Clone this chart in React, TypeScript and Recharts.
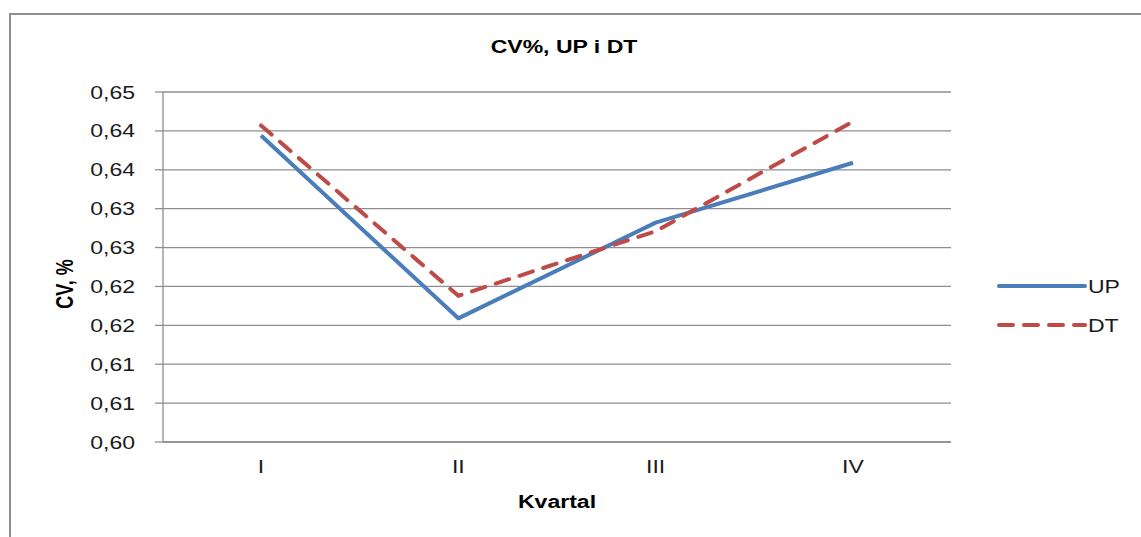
import React from 'react';
import { LineChart, Line, XAxis, YAxis, CartesianGrid, Label } from 'recharts';

const categories = ['I', 'II', 'III', 'IV'];
const upValues = [0.6394, 0.6159, 0.6282, 0.6359];
const dtValues = [0.6407, 0.6188, 0.6271, 0.6412];
const yTicks = [0.6, 0.605, 0.61, 0.615, 0.62, 0.625, 0.63, 0.635, 0.64, 0.645];
const yTickLabels = ['0,60', '0,61', '0,61', '0,62', '0,62', '0,63', '0,63', '0,64', '0,64', '0,65'];

const data = categories.map((c, i) => ({ name: c, UP: upValues[i], DT: dtValues[i] }));

const FONT = 'Liberation Sans, Arial, sans-serif';
const SX = 1.28;
const UP_COLOR = '#4a7ebb';
const DT_COLOR = '#be4b48';

const YTick = (props: any) => {
  const { x, y, index } = props;
  return (
    <text
      transform={`translate(${x - 18},${y}) scale(${SX},1)`}
      textAnchor="end"
      dominantBaseline="central"
      fontFamily={FONT}
      fontSize={18}
      fill="#1a1a1a"
    >
      {yTickLabels[index]}
    </text>
  );
};

const XTick = (props: any) => {
  const { x, y, payload } = props;
  return (
    <text
      transform={`translate(${x},${y + 16}) scale(${SX},1)`}
      textAnchor="middle"
      dominantBaseline="central"
      fontFamily={FONT}
      fontSize={18}
      fill="#1a1a1a"
    >
      {payload.value}
    </text>
  );
};

const LegendBox = () => (
  <svg width={140} height={70} style={{ position: 'absolute', left: 995, top: 270 }}>
    <line x1={4} y1={16} x2={90} y2={16} stroke={UP_COLOR} strokeWidth={4} strokeLinecap="round" />
    <text transform={`translate(93,16) scale(${SX},1)`} dominantBaseline="central" fontFamily={FONT} fontSize={18} fill="#1a1a1a">UP</text>
    <line x1={4} y1={55} x2={90} y2={55} stroke={DT_COLOR} strokeWidth={4} strokeDasharray="14 11" strokeLinecap="round" />
    <text transform={`translate(93,55) scale(${SX},1)`} dominantBaseline="central" fontFamily={FONT} fontSize={18} fill="#1a1a1a">DT</text>
  </svg>
);

export default function App() {
  return (
    <div style={{ position: 'absolute', left: 0, top: 0, width: 1141, height: 537, background: '#fff', overflow: 'hidden' }}>
      <div style={{ position: 'absolute', left: 9, top: 13, width: 1160, height: 560, border: '2px solid #8e8e8e', boxSizing: 'border-box' }} />
      <div style={{ position: 'absolute', left: 0, top: 0 }}>
        <LineChart width={1141} height={537} data={data} margin={{ top: 92, right: 190, bottom: 65, left: 63 }}>
          <text
            transform={`translate(564,46) scale(${SX},1)`}
            textAnchor="middle"
            dominantBaseline="central"
            fontFamily={FONT}
            fontSize={18}
            fontWeight="bold"
            fill="#000"
          >
            CV%, UP i DT
          </text>
          <CartesianGrid vertical={false} stroke="#8e8e8e" strokeWidth={1.3} />
          <XAxis
            dataKey="name"
            padding={{ left: 98, right: 98 }}
            tickLine={false}
            axisLine={{ stroke: '#8e8e8e', strokeWidth: 1.3 }}
            tick={<XTick />}
            height={30}
            interval={0}
          >
            <Label
              content={() => (
                <text
                  transform={`translate(557,501) scale(${SX},1)`}
                  textAnchor="middle"
                  dominantBaseline="central"
                  fontFamily={FONT}
                  fontSize={18}
                  fontWeight="bold"
                  fill="#000"
                >
                  Kvartal
                </text>
              )}
            />
          </XAxis>
          <YAxis
            width={100}
            domain={[0.6, 0.645]}
            ticks={yTicks}
            interval={0}
            tickSize={8}
            tickLine={{ stroke: '#8e8e8e', strokeWidth: 1.3 }}
            axisLine={{ stroke: '#8e8e8e', strokeWidth: 1.3 }}
            tick={<YTick />}
          >
            <Label
              content={() => (
                <text
                  transform={`translate(65,284) scale(${SX},1) rotate(-90)`}
                  textAnchor="middle"
                  dominantBaseline="central"
                  fontFamily={FONT}
                  fontSize={18}
                  fontWeight="bold"
                  fill="#000"
                >
                  CV, %
                </text>
              )}
            />
          </YAxis>
          <Line dataKey="UP" stroke={UP_COLOR} strokeWidth={4} dot={false} isAnimationActive={false} strokeLinejoin="round" />
          <Line dataKey="DT" stroke={DT_COLOR} strokeWidth={4} strokeDasharray="14 11" strokeLinecap="round" dot={false} isAnimationActive={false} />
        </LineChart>
      </div>
      <LegendBox />
    </div>
  );
}
